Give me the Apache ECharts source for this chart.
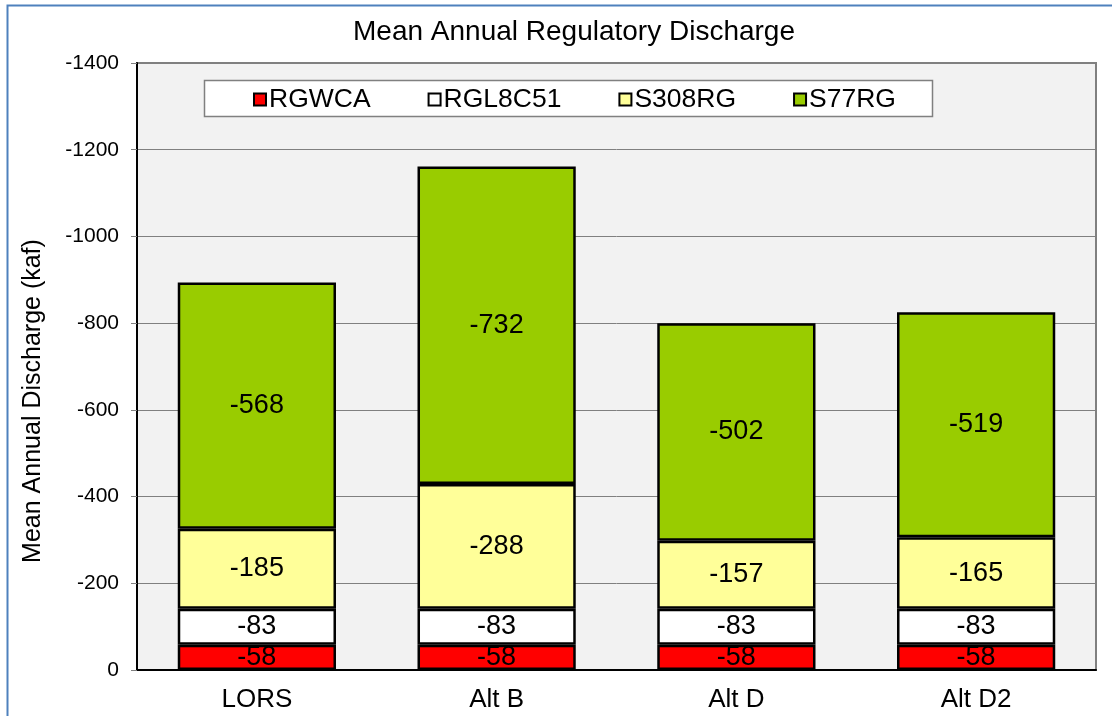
<!DOCTYPE html>
<html><head><meta charset="utf-8">
<script src="https://cdn.jsdelivr.net/npm/echarts@6/dist/echarts.min.js"></script>
<style>html,body{margin:0;padding:0;background:#fff}#c{width:1112px;height:716px}</style>
</head><body><div id="c"></div>
<script>
const categories = ['LORS', 'Alt B', 'Alt D', 'Alt D2'];
const seriesNames = ['RGWCA', 'RGL8C51', 'S308RG', 'S77RG'];
const RGWCA = [-58, -58, -58, -58];
const RGL8C51 = [-83, -83, -83, -83];
const S308RG = [-185, -288, -157, -165];
const S77RG = [-568, -732, -502, -519];
const colors = ['#FF0000', '#FFFFFF', '#FFFF99', '#99CC00'];
const values = [RGWCA, RGL8C51, S308RG, S77RG];
const FONT = 'Liberation Sans, Arial, sans-serif';

const chart = echarts.init(document.getElementById('c'), null, {renderer: 'canvas'});
chart.setOption({
  animation: false,
  backgroundColor: '#fff',
  textStyle: {fontFamily: FONT, color: '#000'},
  graphic: [
    {type: 'rect', shape: {x: 7.5, y: 5.5, width: 1200, height: 800}, style: {fill: null, stroke: '#4F81BD', lineWidth: 2}, z: 0},
    {type: 'rect', shape: {x: 204.5, y: 80.5, width: 728, height: 36}, style: {fill: '#fff', stroke: '#808080', lineWidth: 1.5}, z: 5},
    {type: 'text', x: 33, y: 401, rotation: Math.PI / 2, z: 10,
     style: {text: 'Mean Annual Discharge (kaf)', font: '25px Liberation Sans, Arial, sans-serif', fill: '#000', textAlign: 'center', textVerticalAlign: 'middle'}}
  ],
  title: {
    text: 'Mean Annual Regulatory Discharge',
    left: 569, top: 13, textAlign: 'center',
    textStyle: {fontFamily: FONT, fontSize: 28, fontWeight: 'normal', color: '#000'}
  },
  legend: {
    left: 253, top: 86, padding: 0,
    itemWidth: 12, itemHeight: 12, itemGap: 57,
    icon: 'rect',
    data: seriesNames,
    textStyle: {fontFamily: FONT, fontSize: 26.5, color: '#000', padding: [0, 0, 0, -2]},
    z: 10
  },
  grid: {
    left: 137, top: 63, right: 16, bottom: 46,
    show: true, backgroundColor: '#F2F2F2', borderColor: '#808080', borderWidth: 2
  },
  xAxis: {
    type: 'category', data: categories,
    axisLine: {lineStyle: {color: '#000', width: 2}},
    axisTick: {inside: true, length: 7, lineStyle: {color: '#000'}},
    axisLabel: {fontFamily: FONT, fontSize: 26, color: '#000', margin: 17}
  },
  yAxis: {
    type: 'value', min: -1400, max: 0, interval: 200, inverse: true,
    axisLine: {show: true, lineStyle: {color: '#000', width: 2}},
    axisTick: {show: true, length: 6, lineStyle: {color: '#808080'}},
    axisLabel: {fontFamily: FONT, fontSize: 21, color: '#000', margin: 18, formatter: v => String(v)},
    splitLine: {lineStyle: {color: '#808080', width: 1}}
  },
  series: seriesNames.map((n, i) => ({
    name: n, type: 'bar', stack: 'total', barWidth: '66%',
    data: values[i],
    itemStyle: {color: colors[i], borderColor: '#000', borderWidth: 2.5},
    label: {show: true, position: 'inside', fontFamily: FONT, fontSize: 27, color: '#000'},
    z: 3
  }))
});
</script></body></html>
